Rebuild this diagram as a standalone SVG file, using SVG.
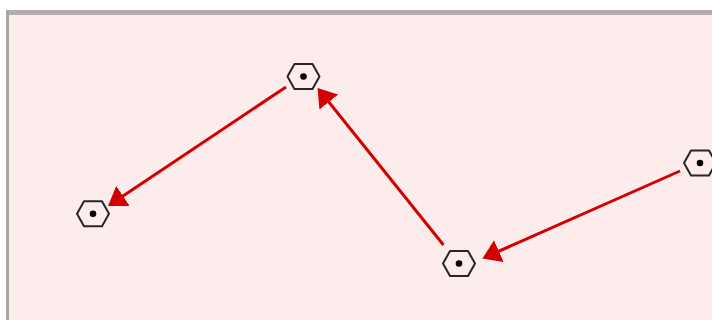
<svg xmlns="http://www.w3.org/2000/svg" width="712" height="320" viewBox="0 0 712 320">
  <style>
    .hex { fill: none; stroke: #262626; stroke-width: 2; stroke-linejoin: round; }
    .dot { fill: #000; }
    .edge { stroke: #d40000; stroke-width: 3; fill: none; marker-end: url(#arrow); }
  </style>
  <defs>
    <marker id="arrow" markerUnits="userSpaceOnUse" markerWidth="24" markerHeight="24" refX="8" refY="12" orient="auto" viewBox="0 0 24 24">
      <path d="M0,0 L18,12 L0,24 z" fill="#d40000"/>
    </marker>
    <polygon id="hexShape" points="-16,0 -9,-12.5 9,-12.5 16,0 9,12.5 -9,12.5"/>
  </defs>
  <rect x="0" y="0" width="712" height="320" fill="#ffffff"/>
  <rect x="8" y="13" width="704" height="307" fill="#fdecec"/>
  <rect x="6" y="10" width="706" height="5" fill="#b3adad"/>
  <rect x="6" y="10" width="3" height="310" fill="#a9a6a6"/>
  <g id="connectors">
    <line class="edge" x1="286" y1="87" x2="116.3" y2="200.4"/>
    <line class="edge" x1="443.5" y1="245" x2="323.8" y2="95.8"/>
    <line class="edge" x1="680" y1="171" x2="491.6" y2="254.4"/>
  </g>
  <g id="node1" transform="translate(93,213.7)">
    <use href="#hexShape" class="hex"/>
    <circle class="dot" r="3.3"/>
  </g>
  <g id="node2" transform="translate(303.5,76.5)">
    <use href="#hexShape" class="hex"/>
    <circle class="dot" r="3.3"/>
  </g>
  <g id="node3" transform="translate(459,263.5)">
    <use href="#hexShape" class="hex"/>
    <circle class="dot" r="3.3"/>
  </g>
  <g id="node4" transform="translate(700,163)">
    <use href="#hexShape" class="hex"/>
    <circle class="dot" r="3.3"/>
  </g>
</svg>
